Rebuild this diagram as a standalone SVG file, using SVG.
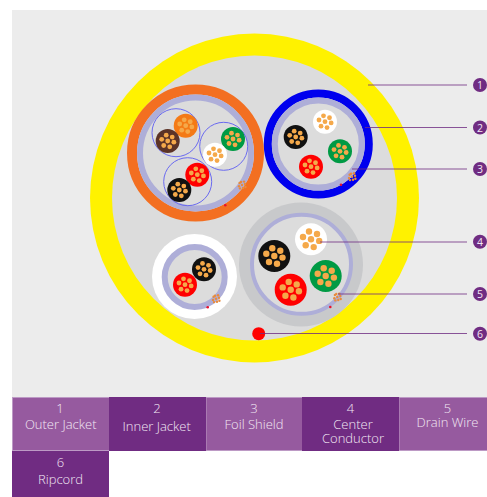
<svg xmlns="http://www.w3.org/2000/svg" xmlns:xlink="http://www.w3.org/1999/xlink" width="487" height="497" viewBox="0 0 487 497">
<style>
.foil{fill:none;stroke:#aeaed8}
.thin{fill:none;stroke:#6a6af0;stroke-width:1}
.lead{stroke:#702c82;stroke-width:1;opacity:.8}
.badge{fill:#702c82}
.bt{font:10.5px "Open Sans",sans-serif;fill:#f2e8f4;text-anchor:middle}
.lt{font:300 13px "Open Sans",sans-serif;fill:#f2e8f4;text-anchor:middle}
.cl{fill:#965a9f;stroke:#bd9ac5;stroke-width:1}
.cd{fill:#702c82}
.rip{fill:#e8112d}
</style>
<defs>
<g id="dots" fill="#f5a94a">
<circle r="3.200"/><circle cx="8.200" cy="1.600" r="3.200"/><circle cx="2.700" cy="7.800" r="3.200"/><circle cx="-5.300" cy="6" r="3.200"/><circle cx="-8" cy="-2.300" r="3.200"/><circle cx="-2" cy="-7.800" r="3.200"/><circle cx="6" cy="-5.300" r="3.200"/>
</g>
<g id="drain" fill="#e98b3c">
<circle r="1.200"/><circle cx="3" cy="-1" r="1.200"/><circle cx="1" cy="3" r="1.200"/><circle cx="-3" cy="1.200" r="1.200"/><circle cx="-1" cy="-3" r="1.200"/><circle cx="3.400" cy="2" r="1.200"/><circle cx="-2.400" cy="-2" r="1.200"/><circle cx="-2" cy="3.400" r="1.200"/><circle cx="2" cy="-3.400" r="1.200"/>
</g>
</defs>
<rect width="487" height="497" fill="#fff"/>
<rect x="12" y="10" width="475" height="387" fill="#ececec"/>

<g id="outer-jacket">
<circle cx="254.500" cy="198" r="164.500" fill="#fff200"/>
<circle cx="254.500" cy="198" r="142.500" fill="#dcdcdc"/>
</g>

<g id="unit-orange">
<circle cx="195.500" cy="153" r="63.500" fill="#dcdcdc" stroke="#f36f21" stroke-width="10"/>
<circle class="foil" cx="195.500" cy="153" r="55.500" stroke-width="6"/>
<circle class="thin" cx="176" cy="132.700" r="24"/>
<circle class="thin" cx="223.700" cy="146.300" r="24"/>
<circle class="thin" cx="187.700" cy="181.700" r="24"/>
<circle cx="185.700" cy="125.700" r="12" fill="#f47a16"/><use href="#dots" transform="translate(185.700 125.700) scale(.75)"/>
<circle cx="167.700" cy="141" r="12" fill="#5c3327"/><use href="#dots" transform="translate(167.700 141) scale(.75)"/>
<circle cx="233" cy="139" r="12" fill="#009a44"/><use href="#dots" transform="translate(233 139) scale(.75)"/>
<circle cx="215" cy="154.700" r="12" fill="#fff"/><use href="#dots" transform="translate(215 154.700) scale(.75)"/>
<circle cx="197.300" cy="174.700" r="12" fill="#f00"/><use href="#dots" transform="translate(197.300 174.700) scale(.75)"/>
<circle cx="179.300" cy="190" r="12" fill="#111"/><use href="#dots" transform="translate(179.300 190) scale(.75)"/>
<use href="#drain" x="242" y="185"/>
<circle class="rip" cx="225.300" cy="205.300" r="1.300"/>
</g>

<g id="unit-blue">
<circle cx="318.300" cy="144" r="50.500" fill="#dcdcdc" stroke="#0000ee" stroke-width="8"/>
<circle class="foil" cx="318.300" cy="144" r="43.500" stroke-width="6"/>
<circle cx="325" cy="121.700" r="12" fill="#fff"/><use href="#dots" transform="translate(325 121.700) scale(.75)"/>
<circle cx="295.700" cy="137" r="12" fill="#111"/><use href="#dots" transform="translate(295.700 137) scale(.75)"/>
<circle cx="340" cy="151.300" r="12" fill="#009a44"/><use href="#dots" transform="translate(340 151.300) scale(.75)"/>
<circle cx="311" cy="166.700" r="12" fill="#f00"/><use href="#dots" transform="translate(311 166.700) scale(.75)"/>
<use href="#drain" x="352" y="176.700"/>
<circle class="rip" cx="341" cy="184.700" r="1.300"/>
</g>

<g id="unit-grey">
<circle cx="301" cy="264.500" r="62" fill="#c8c9cb"/>
<circle cx="301.500" cy="264.300" r="49.500" fill="#dcdcdc" stroke="#aeaed8" stroke-width="4"/>
<circle cx="311" cy="239.300" r="16" fill="#fff"/><use href="#dots" x="311" y="239.300"/>
<circle cx="274.300" cy="256" r="16" fill="#111"/><use href="#dots" x="274.300" y="256"/>
<circle cx="325.700" cy="276" r="16" fill="#009a44"/><use href="#dots" x="325.700" y="276"/>
<circle cx="290.700" cy="289.700" r="16" fill="#f00"/><use href="#dots" x="290.700" y="289.700"/>
<use href="#drain" x="337.300" y="297"/>
<circle class="rip" cx="330.300" cy="307" r="1.300"/>
</g>

<g id="unit-white">
<circle cx="194.500" cy="276.500" r="42.500" fill="#fff"/>
<circle cx="194.700" cy="277" r="30" fill="#dcdcdc" stroke="#aeaed8" stroke-width="6"/>
<circle cx="204" cy="269.300" r="12" fill="#111"/><use href="#dots" transform="translate(204 269.300) scale(.75)"/>
<circle cx="185" cy="284.700" r="12" fill="#f00"/><use href="#dots" transform="translate(185 284.700) scale(.75)"/>
<use href="#drain" x="216" y="298.700"/>
<circle class="rip" cx="207.700" cy="307.300" r="1.300"/>
</g>

<g id="ripcord"><circle cx="258.700" cy="333.700" r="6.500" fill="#f00"/></g>

<g id="connectors">
<line class="lead" x1="368" y1="85" x2="467" y2="85"/>
<line class="lead" x1="365" y1="127.500" x2="467" y2="127.500"/>
<line class="lead" x1="352" y1="169" x2="467" y2="169"/>
<line class="lead" x1="320" y1="242" x2="467" y2="242"/>
<line class="lead" x1="338" y1="294" x2="467" y2="294"/>
<line class="lead" x1="260" y1="333.500" x2="467" y2="333.500"/>
</g>

<g id="badge-1"><circle class="badge" cx="480" cy="85" r="7"/><text class="bt" x="480" y="89">1</text></g>
<g id="badge-2"><circle class="badge" cx="480" cy="127.500" r="7"/><text class="bt" x="480" y="131.500">2</text></g>
<g id="badge-3"><circle class="badge" cx="480" cy="169" r="7"/><text class="bt" x="480" y="173">3</text></g>
<g id="badge-4"><circle class="badge" cx="480" cy="241.700" r="7"/><text class="bt" x="480" y="245.700">4</text></g>
<g id="badge-5"><circle class="badge" cx="480" cy="294" r="7"/><text class="bt" x="480" y="298">5</text></g>
<g id="badge-6"><circle class="badge" cx="480" cy="333.700" r="7"/><text class="bt" x="480" y="337.700">6</text></g>

<g id="legend-1"><rect class="cl" x="12.500" y="397.500" width="97" height="53"/><text class="lt" x="60" y="413">1</text><text class="lt" x="60.700" y="429">Outer Jacket</text></g>
<g id="legend-3"><rect class="cl" x="206" y="397.500" width="97" height="53"/><text class="lt" x="254" y="413">3</text><text class="lt" x="254" y="429">Foil Shield</text></g>
<g id="legend-5"><rect class="cl" x="399" y="397.500" width="97" height="53"/><text class="lt" x="447.500" y="413">5</text><text class="lt" x="447.500" y="427">Drain Wire</text></g>
<g id="legend-2"><rect class="cd" x="109" y="397" width="97" height="54"/><text class="lt" x="157" y="413">2</text><text class="lt" x="156.700" y="431">Inner Jacket</text></g>
<g id="legend-4"><rect class="cd" x="302" y="397" width="97" height="54"/><text class="lt" x="350.500" y="413">4</text><text class="lt" x="353" y="429">Center</text><text class="lt" x="353" y="443">Conductor</text></g>
<g id="legend-6"><rect class="cd" x="12" y="451" width="97" height="46"/><text class="lt" x="60.500" y="467">6</text><text class="lt" x="60.500" y="484">Ripcord</text></g>
</svg>
